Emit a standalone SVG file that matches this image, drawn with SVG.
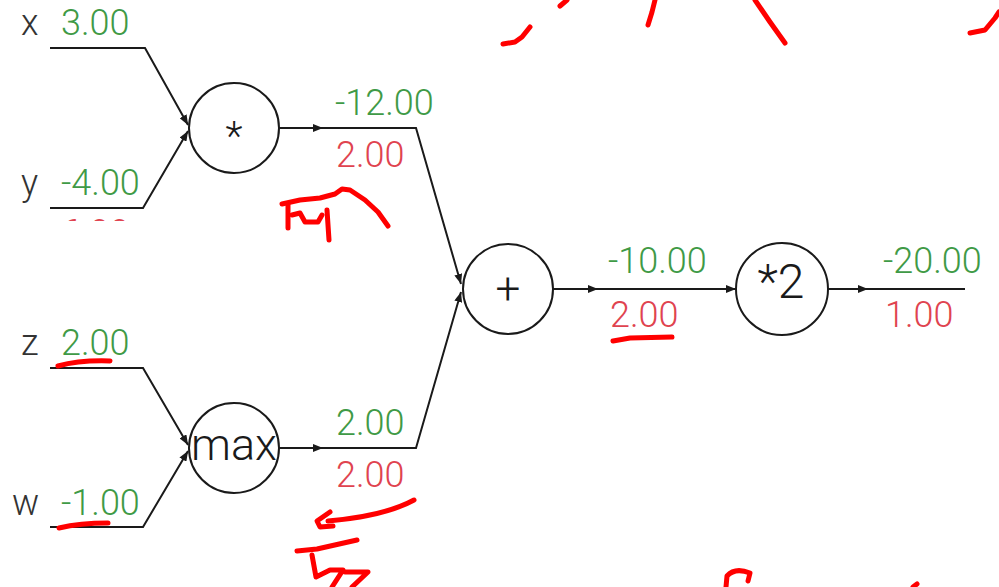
<svg xmlns="http://www.w3.org/2000/svg" width="999" height="587" viewBox="0 0 999 587">
<defs>
<style>
.node circle{fill:#fff;stroke:#1a1a1a;stroke-width:2}
.op{font-family:Roboto,"Liberation Sans",sans-serif;font-weight:300;fill:#1a1a1a;text-anchor:middle}
.lbl{font-family:Roboto,"Liberation Sans",sans-serif;font-weight:300;font-size:36px;fill:#333}
.val{font-family:Roboto,"Liberation Sans",sans-serif;font-weight:300;font-size:36px;fill:#3f9a46}
.grad{font-family:Roboto,"Liberation Sans",sans-serif;font-weight:300;font-size:36px;fill:#e0434f}
.wire{fill:none;stroke:#1a1a1a;stroke-width:2}
.arr{marker-end:url(#ah)}
.ink{fill:none;stroke:#ff0000;stroke-width:5;stroke-linecap:round;stroke-linejoin:round}
</style>
<marker id="ah" viewBox="0 0 10 8" refX="10" refY="4" markerWidth="10" markerHeight="8" markerUnits="userSpaceOnUse" orient="auto">
<path d="M0,0 L10,4 L0,8 Z" fill="#1a1a1a"/>
</marker>
<clipPath id="cut"><rect x="0" y="0" width="999" height="221"/></clipPath>
</defs>
<rect width="999" height="587" fill="#fff"/>

<g id="connectors">
<path class="wire arr" d="M50,48 L145,48 L188,125"/>
<path class="wire arr" d="M50,208 L143,208 L188,131"/>
<path class="wire arr" d="M279,128 L323,128"/>
<path class="wire arr" d="M323,128 L416,128 L461,284"/>
<path class="wire arr" d="M50,368 L143,368 L188,445"/>
<path class="wire arr" d="M50,527 L143,527 L188,451"/>
<path class="wire arr" d="M279,448 L323,448"/>
<path class="wire arr" d="M323,448 L416,448 L461,292"/>
<path class="wire arr" d="M553,289 L598,289"/>
<path class="wire arr" d="M598,289 L736,289"/>
<path class="wire arr" d="M828,289 L868,289"/>
<path class="wire" d="M868,289 L965,289"/>
</g>

<g id="input-x">
<text class="lbl" x="21" y="35">x</text>
<text class="val" x="61" y="35">3.00</text>
</g>
<g id="input-y">
<text class="lbl" x="21" y="195">y</text>
<text class="val" x="61" y="195">-4.00</text>
<text class="grad" x="61" y="245" clip-path="url(#cut)">6.00</text>
</g>
<g id="input-z">
<text class="lbl" x="21" y="355">z</text>
<text class="val" x="61" y="355">2.00</text>
</g>
<g id="input-w">
<text class="lbl" x="12" y="515">w</text>
<text class="val" x="61" y="515">-1.00</text>
</g>

<g id="node-mul" class="node">
<circle cx="234" cy="128" r="45"/>
<text class="op" x="234" y="150" font-size="40">*</text>
</g>
<g id="edge-mul-values">
<text class="val" x="335" y="115">-12.00</text>
<text class="grad" x="336" y="167">2.00</text>
</g>

<g id="node-max" class="node">
<circle cx="234" cy="448" r="45"/>
<text class="op" x="234" y="460" font-size="45">max</text>
</g>
<g id="edge-max-values">
<text class="val" x="336" y="435">2.00</text>
<text class="grad" x="336" y="487">2.00</text>
</g>

<g id="node-add" class="node">
<circle cx="508" cy="289" r="45"/>
<text class="op" x="508" y="304" font-size="44">+</text>
</g>
<g id="edge-add-values">
<text class="val" x="608" y="273">-10.00</text>
<text class="grad" x="610" y="327">2.00</text>
</g>

<g id="node-times2" class="node">
<circle cx="782" cy="289" r="46"/>
<text class="op" x="781" y="298" font-size="48">*2</text>
</g>
<g id="edge-out-values">
<text class="val" x="883" y="273">-20.00</text>
<text class="grad" x="885" y="327">1.00</text>
</g>

<g id="annotations">
<path class="ink" d="M282,204 L300,200 L320,198 L335,194 L342,189 L350,190 L365,200 L378,212 L388,226"/>
<path class="ink" d="M288,205 L288,228"/>
<path class="ink" d="M292,215 L300,213 L305,222 L318,222 L322,215"/>
<path class="ink" d="M327,210 L329,240"/>
<path class="ink" d="M58,366 Q80,360 110,361"/>
<path class="ink" d="M59,528 Q80,523 108,523"/>
<path class="ink" d="M613,341 L630,338 L672,337"/>
<path class="ink" d="M414,500 Q385,516 328,521"/>
<path class="ink" d="M330,512 L317,521 L320,527 L333,526"/>
<path class="ink" d="M297,551 L317,549 L357,540"/>
<path class="ink" d="M312,555 L316,577 L330,570 L343,570 L332,587"/>
<path class="ink" d="M345,572 L368,572 L352,587"/>
<path class="ink" d="M503,44 L515,42 L522,37 L530,27"/>
<path class="ink" d="M560,6 L567,0"/>
<path class="ink" d="M648,25 L652,12 L655,0"/>
<path class="ink" d="M755,0 L770,22 L785,43"/>
<path class="ink" d="M970,33 L985,30 L995,18 L999,12"/>
<path class="ink" d="M726,587 L727,576 Q735,567 750,573 L748,581"/>
<path class="ink" d="M913,587 L917,584"/>
</g>
</svg>
